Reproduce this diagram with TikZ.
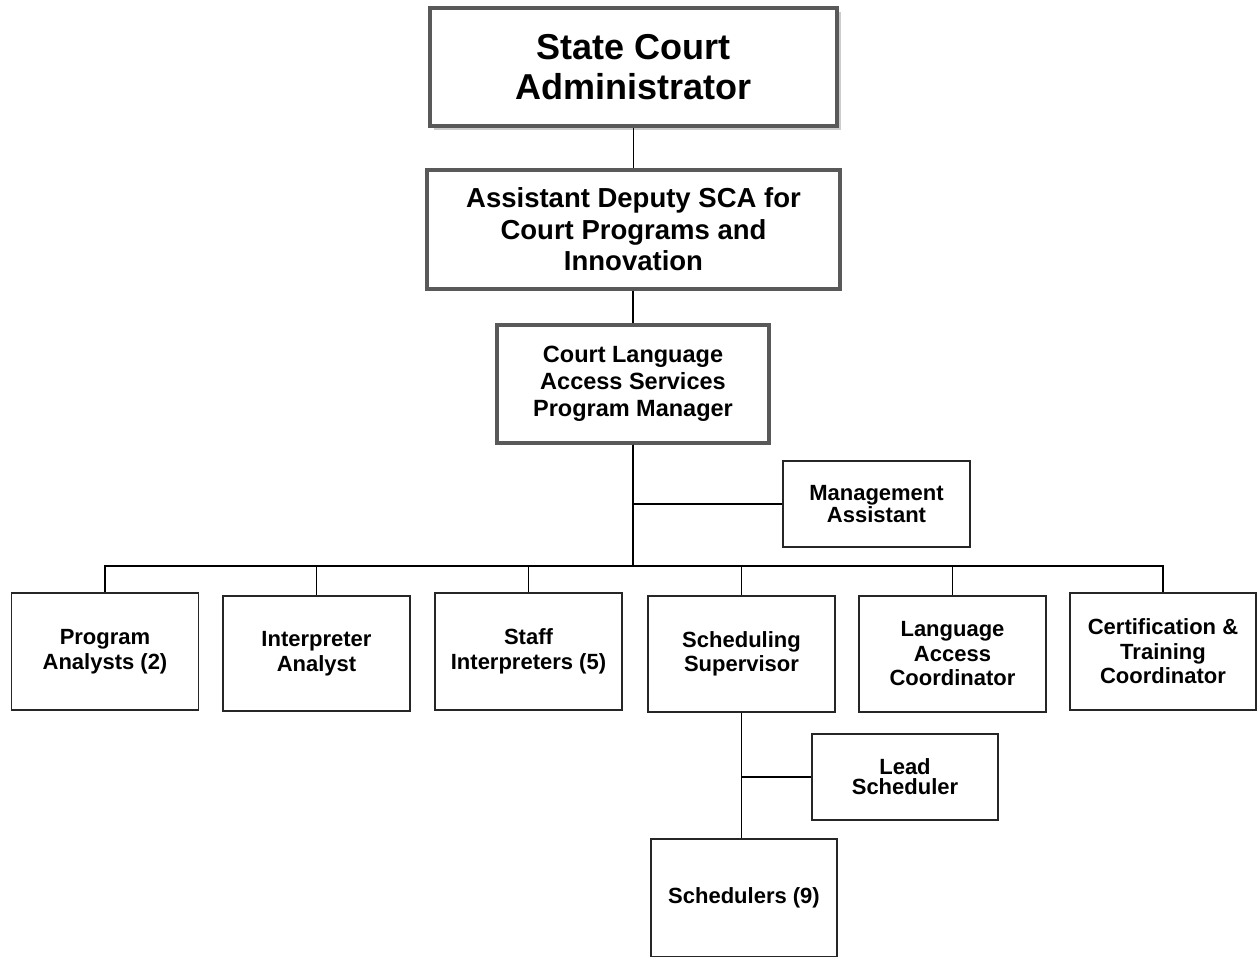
\documentclass[tikz,border=0pt]{standalone}
\usepackage{fontspec}
\setmainfont{Liberation Sans}
\usetikzlibrary{shadows}

\begin{document}
\begin{tikzpicture}[x=1pt,y=-1pt,
	box/.style={draw=black!85,line width=1.6pt,fill=white,align=center,inner sep=0pt,
		minimum width=187pt,minimum height=117pt,font=\fontsize{22}{24.5}\selectfont\bfseries},
	topbox/.style={box,draw=black!65,line width=3.2pt},
	link/.style={black,line width=1.6pt}]

	\useasboundingbox (0,0) rectangle (1257,956);

	%Upper chain of command
	\node[topbox,minimum width=407pt,minimum height=118pt,
		drop shadow={shadow xshift=4pt,shadow yshift=-4pt,fill=black!40},
		font=\fontsize{36}{40}\selectfont\bfseries] (sca) at (633.5,67) {State Court\\Administrator};
	\node[topbox,minimum width=413pt,minimum height=119pt,
		font=\fontsize{27.5}{31.5}\selectfont\bfseries] (asd) at (633.5,229.5) {Assistant Deputy SCA for\\Court Programs and\\Innovation};
	\node[topbox,minimum width=272pt,minimum height=118pt,
		font=\fontsize{23.5}{27}\selectfont\bfseries] (cla) at (633,384) {Court Language\\Access Services\\Program Manager};

	%Staff box beside the manager
	\node[box,minimum height=86pt,font=\fontsize{22}{20}\selectfont\bfseries] (ma) at (876.5,504) {Management\\Assistant};

	%Row of units under the manager
	\node[box] (pa)  at (105,651.5)    {Program\\Analysts (2)};
	\node[box,minimum height=115pt] (ia) at (316.5,653.5) {Interpreter\\Analyst};
	\node[box] (si)  at (528.5,651.5)  {Staff\\Interpreters (5)};
	\node[box,minimum height=116pt] (ss) at (741.5,654) {Scheduling\\Supervisor};
	\node[box,minimum height=116pt] (lac) at (952.5,654) {Language\\Access\\Coordinator};
	\node[box,minimum width=186pt] (ctc) at (1163,651.5) {Certification \&\\Training\\Coordinator};

	%Scheduling unit
	\node[box,minimum width=186pt,minimum height=86pt,font=\fontsize{22}{20}\selectfont\bfseries] (lead) at (905,777) {Lead\\Scheduler};
	\node[box,minimum width=186pt,minimum height=118pt] (sch) at (744,898) {Schedulers (9)};

	\coordinate (bus) at (633,566);

	%Connectors
	\draw[link] (sca) -- (asd);
	\draw[link] (asd.south -| cla.north) -- (cla.north);
	\draw[link] (cla.south |- ma.west) -- (ma.west);
	\foreach \n in {pa,ia,si,ss,lac,ctc}
		\draw[link] (cla.south) -- (cla.south |- bus) -| (\n.north);
	\draw[link] (ss.south) -- (ss.south |- sch.north);
	\draw[link] (ss.south |- lead.west) -- (lead.west);

\end{tikzpicture}
\end{document}
